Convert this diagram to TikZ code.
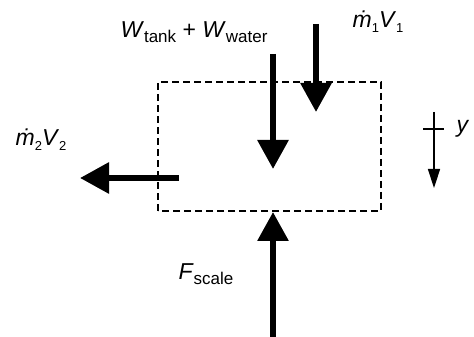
\documentclass[tikz,border=0pt]{standalone}
\usepackage{fontspec}
\setmainfont{Liberation Sans}
\usetikzlibrary{arrows.meta}
\newcommand{\lsub}[1]{\raisebox{-5pt}{\fontsize{17}{17}\selectfont #1}}
\newcommand{\nsub}[1]{\raisebox{-5pt}{\fontsize{13}{13}\selectfont #1}}

\begin{document}
\begin{tikzpicture}[x=1pt, y=1pt,
		force/.style={line width=6pt, -{Triangle[length=29pt, width=30pt]}},
		lbl/.style={font=\fontsize{23}{23}\selectfont, inner sep=0pt, anchor=base}]
		\useasboundingbox (0,0) rectangle (474,337);
		
		% control volume
		\draw[line width=1.7pt, dash pattern=on 7pt off 4pt] (158,126) rectangle (381,255);
		
		% weight
		\coordinate (wtop) at (273,283);
		\coordinate (wtip) at (273,168);
		\draw[force] (wtop) -- (wtip);
		\node[lbl] (wlab) at (194,299) {\textit{W}\lsub{tank} + \textit{W}\lsub{water}};
		
		% inflow
		\coordinate (intop) at (316,313);
		\coordinate (intip) at (316,225);
		\draw[force] (intop) -- (intip);
		\node[lbl] (inlab) at (378,309) {\textit{\.{m}}\nsub{1}\textit{V}\nsub{1}};
		
		% outflow
		\coordinate (outstart) at (179,159);
		\coordinate (outtip) at (80,159);
		\draw[force] (outstart) -- (outtip);
		\node[lbl] (outlab) at (41,191) {\textit{\.{m}}\nsub{2}\textit{V}\nsub{2}};
		
		% scale
		\coordinate (fbot) at (273,0);
		\coordinate (ftip) at (273,125);
		\draw[force] (fbot) -- (ftip);
		\node[lbl] (flab) at (206,57) {\textit{F}\lsub{scale}};
		
		% y direction
		\coordinate (ytop) at (434,225);
		\coordinate (ytip) at (434,149);
		\coordinate (tickl) at (423,208);
		\coordinate (tickr) at (444,208);
		\draw[line width=1.5pt, -{Triangle[length=19pt, width=12pt]}] (ytop) -- (ytip);
		\draw[line width=1.5pt] (tickl) -- (tickr);
		\node[lbl] (ylab) at (463,204) {\textit{y}};
	\end{tikzpicture}
\end{document}
